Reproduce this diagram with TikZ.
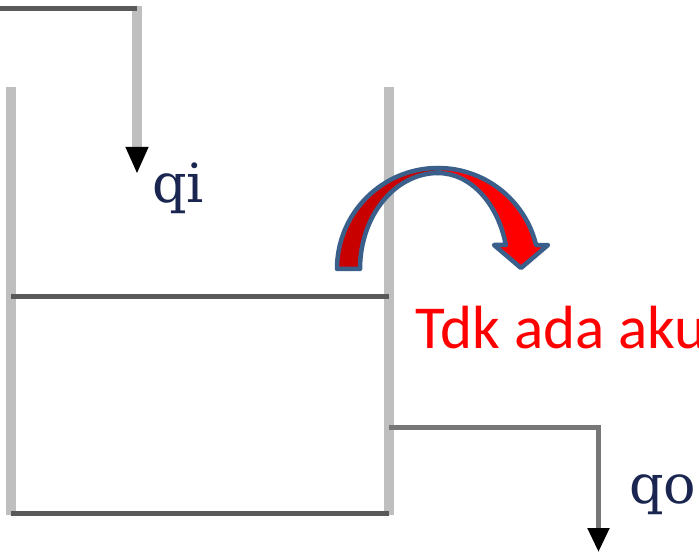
\documentclass[tikz,border=0pt]{standalone}
\usepackage{fontspec}
\setmainfont{DejaVu Serif}
\newfontfamily\calibrifont{Carlito}
\usetikzlibrary{arrows.meta}
\definecolor{wallgray}{HTML}{BFBFBF}
\definecolor{linegray}{HTML}{5A5A5A}
\definecolor{pipegray}{HTML}{777777}
\definecolor{arcblue}{HTML}{3A5F8B}
\definecolor{darkred}{HTML}{C80000}
\definecolor{flowtext}{HTML}{1A2650}
\tikzset{
  wall style/.style={draw=wallgray, line width=10pt},
  level style/.style={draw=linegray, line width=5pt},
  inlet style/.style={draw=wallgray, line width=10pt,
    -{Triangle[length=27pt, width=21pt, color=black, fill=black]}},
  outlet style/.style={draw=pipegray, line width=5pt,
    -{Triangle[length=24pt, width=21pt, color=black, fill=black]}},
  flow label/.style={anchor=base west, inner sep=0pt, text=flowtext,
    font=\fontsize{54}{56}\selectfont},
  curve dark/.style={fill=darkred, draw=arcblue, line width=4.5pt, line join=round},
  curve light/.style={fill=red, draw=arcblue, line width=4.5pt, line join=round}
}

\begin{document}
\begin{tikzpicture}[x=1pt, y=1pt]
\useasboundingbox (0,0) rectangle (699,555);
\clip (0,0) rectangle (699,555);

\coordinate (inA) at (0,546.5);
\coordinate (inB) at (137,546.5);
\coordinate (inTop) at (137,549);
\coordinate (inTip) at (137,381);
\coordinate (wlTop) at (11,468);
\coordinate (wlBot) at (11,40);
\coordinate (wrTop) at (389,468);
\coordinate (wrBot) at (389,40);
\coordinate (lvL) at (11,258.5);
\coordinate (lvR) at (389,258.5);
\coordinate (btL) at (11,41.5);
\coordinate (btR) at (389,41.5);
\coordinate (outA) at (389,127.5);
\coordinate (outB) at (598.5,127.5);
\coordinate (outTip) at (598.5,3);

\draw[inlet style] (inTop) -- (inTip);
\draw[level style] (inA) -- (inB);

\draw[wall style] (wlTop) -- (wlBot);
\draw[wall style] (wrTop) -- (wrBot);
\draw[level style] (lvL) -- (lvR);
\draw[level style] (btL) -- (btR);

\draw[outlet style] (outA) -- (outB) -- (outTip);

\node[flow label] (qi) at (152,352) {qi};
\node[flow label] (qo) at (629,52) {qo};

\draw[curve dark] (337,286) arc[start angle=180, end angle=90, radius=101pt]
  -- (438,382) arc[start angle=90, end angle=180, x radius=78pt, y radius=96pt] -- cycle;
\draw[curve light] (438,387) arc[start angle=90, end angle=13.7, radius=101pt]
  -- (548,310) -- (521,287) -- (494,310) -- (505.8,310)
  arc[start angle=14.5, end angle=90, x radius=70pt, y radius=96pt] -- cycle;

\node[anchor=base west, inner sep=0pt, text=red,
  font=\calibrifont\fontsize{61}{63}\selectfont] (note) at (415,207) {Tdk ada aku};

\end{tikzpicture}
\end{document}
